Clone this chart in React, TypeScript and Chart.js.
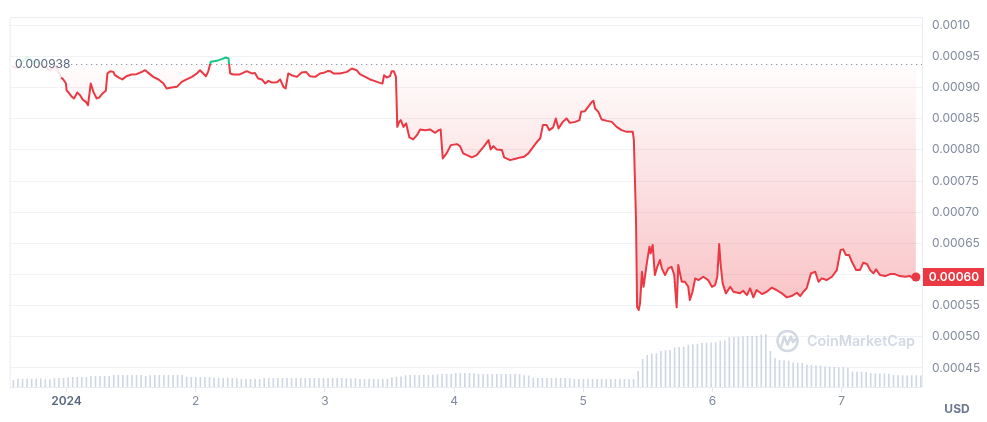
import React, { useEffect, useRef } from "react";
import { Chart, registerables } from "chart.js";

Chart.register(...registerables);

// ---------- data ----------
const BASE_PRICE = 0.000938;
const X_MIN = -10.5;
const X_MAX = 158.93;
const Y_MIN = 0.0004195;
const Y_MAX = 0.00101284;
const Y_TICKS = [0.00045, 0.0005, 0.00055, 0.0006, 0.00065, 0.0007, 0.00075, 0.0008, 0.00085, 0.0009, 0.00095, 0.001];
const X_TICKS = [0, 24, 48, 72, 96, 120, 144];
const X_TICK_LABELS = ["2024", "2", "3", "4", "5", "6", "7"];

// hours since 2024-01-01 00:00
const HOURS = [
  -1.0, -0.6, -0.1, 0.0, 0.5, 1.0, 1.4, 2.0, 2.5, 3.0, 3.6, 4.0, 4.5, 5.0, 5.6, 6.1, 6.7, 7.3, 7.6, 8.1,
  8.7, 9.0, 9.8, 10.4, 11.1, 12.1, 13.0, 14.0, 14.6, 15.2, 16.1, 17.1, 18.0, 18.6, 19.5, 20.5, 21.4, 22.3, 23.3, 24.2,
  24.8, 25.4, 25.9, 26.3, 26.8, 27.9, 28.8, 29.6, 30.1, 30.4, 31.0, 32.2, 33.5, 34.4, 35.0, 35.6, 36.3, 36.9, 37.5, 38.1,
  39.1, 39.7, 40.3, 40.7, 41.2, 41.8, 42.8, 43.7, 44.5, 45.2, 46.2, 47.1, 48.0, 48.6, 49.0, 49.6, 50.8, 52.1, 53.0, 53.9,
  54.5, 55.5, 56.4, 57.3, 58.2, 58.7, 59.0, 59.5, 60.1, 60.4, 60.8, 61.2, 61.45, 61.8, 62.1, 62.6, 63.1, 63.7, 64.4, 65.1,
  65.7, 66.6, 67.5, 68.5, 69.1, 69.5, 69.9, 70.6, 71.4, 72.5, 73.1, 73.7, 74.4, 75.3, 76.2, 77.4, 78.4, 78.8, 79.3, 79.9,
  80.9, 81.3, 82.4, 83.6, 84.3, 85.0, 85.8, 86.7, 87.4, 88.0, 88.5, 89.2, 89.7, 90.4, 90.9, 91.4, 92.2, 92.9, 93.5, 94.5,
  95.3, 95.6, 96.3, 96.9, 97.6, 97.9, 98.2, 98.8, 99.4, 100.4, 101.3, 102.2, 103.1, 104.1, 105.2, 105.4, 105.8, 106.0, 106.3, 106.55,
  106.9, 107.2, 107.8, 108.3, 108.5, 108.9, 109.3, 109.75, 110.25, 110.6, 111.2, 111.8, 112.4, 112.9, 113.35, 113.65, 114.3, 114.9, 115.5, 115.8,
  116.3, 116.8, 117.4, 118.3, 119.2, 119.9, 120.5, 120.9, 121.25, 121.5, 121.9, 122.5, 123.3, 123.9, 125.1, 125.7, 126.4, 127.0, 127.6, 128.2,
  129.2, 130.1, 131.0, 131.9, 132.9, 133.8, 134.7, 135.7, 136.3, 136.9, 137.5, 138.3, 139.1, 139.7, 140.3, 141.2, 142.2, 143.1, 143.8, 144.3,
  144.8, 145.4, 145.9, 146.7, 147.4, 148.0, 148.7, 149.3, 149.9, 150.4, 151.1, 152.1, 153.0, 153.9, 154.8, 155.8, 156.7, 157.3, 157.8,
];

const PRICES = [
  0.0009161, 0.0009129, 0.0009065, 0.0008958, 0.0008905, 0.000885, 0.0008825, 0.0008921, 0.0008878, 0.0008809, 0.000877, 0.0008717, 0.0009065, 0.000893, 0.0008825, 0.0008841, 0.0008905, 0.0008947, 0.0009226, 0.0009262,
  0.0009251, 0.0009198, 0.0009155, 0.000913, 0.0009182, 0.0009209, 0.0009214, 0.0009251, 0.0009278, 0.0009235, 0.0009171, 0.0009129, 0.0009065, 0.0008985, 0.0009001, 0.0009011, 0.0009091, 0.000913, 0.0009171, 0.0009226,
  0.0009278, 0.0009226, 0.0009182, 0.0009251, 0.0009412, 0.0009428, 0.0009455, 0.0009482, 0.0009466, 0.0009226, 0.000921, 0.000921, 0.0009262, 0.0009226, 0.0009235, 0.0009145, 0.0009129, 0.0009065, 0.0009107, 0.0009081,
  0.0009086, 0.0009129, 0.0009011, 0.0008985, 0.0009226, 0.0009198, 0.0009171, 0.0009242, 0.0009251, 0.0009182, 0.0009171, 0.0009226, 0.0009242, 0.0009267, 0.0009262, 0.0009226, 0.0009226, 0.0009251, 0.0009306, 0.0009278,
  0.0009214, 0.0009171, 0.0009129, 0.0009102, 0.0009075, 0.0009065, 0.0009198, 0.0009161, 0.0009182, 0.0009262, 0.0009262, 0.0009171, 0.0008369, 0.0008449, 0.0008477, 0.0008369, 0.0008424, 0.0008199, 0.0008167, 0.0008236,
  0.0008328, 0.0008316, 0.0008328, 0.0008273, 0.0008316, 0.0008328, 0.0007862, 0.0007943, 0.0008076, 0.0008092, 0.000806, 0.0007943, 0.0007915, 0.0007879, 0.0007915, 0.0008039, 0.0008156, 0.0008007, 0.000806, 0.0008007,
  0.0007996, 0.0007879, 0.0007835, 0.0007862, 0.0007879, 0.0007888, 0.0007943, 0.0008049, 0.0008129, 0.0008183, 0.0008397, 0.0008397, 0.0008316, 0.000836, 0.0008504, 0.0008344, 0.0008449, 0.0008504, 0.0008433, 0.0008449,
  0.0008477, 0.000861, 0.0008621, 0.000869, 0.000877, 0.0008786, 0.0008664, 0.000861, 0.0008488, 0.0008465, 0.0008449, 0.0008369, 0.0008316, 0.0008289, 0.0008289, 0.0008156, 0.0006873, 0.0005483, 0.000543, 0.0005537,
  0.0006044, 0.0005803, 0.0006179, 0.0006445, 0.0006339, 0.0006472, 0.0005991, 0.0006124, 0.0006232, 0.0006098, 0.0005991, 0.0006098, 0.0006124, 0.0005991, 0.0005473, 0.0006151, 0.0005884, 0.0005884, 0.0005803, 0.000559,
  0.0005723, 0.0005938, 0.0005911, 0.0005964, 0.0005911, 0.0005803, 0.0005831, 0.0005964, 0.0006488, 0.0006179, 0.0005858, 0.0005698, 0.0005803, 0.0005723, 0.0005698, 0.0005739, 0.000567, 0.0005778, 0.0005633, 0.0005751,
  0.0005686, 0.0005723, 0.0005788, 0.0005751, 0.0005698, 0.0005633, 0.0005654, 0.0005707, 0.0005654, 0.0005723, 0.0005778, 0.0006018, 0.0006044, 0.0005884, 0.0005938, 0.0005911, 0.0005964, 0.0006071, 0.0006392, 0.0006403,
  0.0006312, 0.0006312, 0.0006204, 0.0006071, 0.0006071, 0.0006188, 0.0006168, 0.0006071, 0.0006018, 0.0006082, 0.0005991, 0.0005975, 0.0006007, 0.0006007, 0.0005975, 0.0005964, 0.0005975, 0.0005939, 0.000596,
];

// faded stretch before the period start
const GHOST_HOURS = [-10.1, -9.0, -7.9, -7.2, -6.0, -4.6, -3.1, -2.0, -1.0];
const GHOST_PRICES = [0.0009343, 0.0009311, 0.0009439, 0.0009487, 0.0009407, 0.0009375, 0.0009278, 0.0009343, 0.0009161];

// rolling 24h volume (thousand USD), evenly spaced across the chart
const VOLUME = [
  140, 166, 166, 168, 166, 166, 168, 154, 154, 176, 180, 180, 196, 200, 200, 200, 202, 216, 220, 220,
  220, 222, 240, 240, 242, 240, 240, 240, 240, 222, 236, 240, 240, 240, 240, 240, 240, 238, 204, 200,
  200, 200, 198, 196, 186, 186, 180, 184, 178, 176, 160, 160, 162, 160, 160, 178, 180, 182, 180, 180,
  180, 178, 180, 180, 180, 182, 180, 180, 180, 180, 178, 180, 180, 174, 172, 174, 160, 160, 160, 162,
  160, 160, 164, 196, 204, 210, 236, 240, 240, 242, 240, 240, 244, 256, 260, 262, 262, 278, 280, 282,
  280, 276, 262, 260, 260, 260, 258, 262, 260, 258, 260, 256, 236, 230, 184, 180, 180, 180, 182, 180,
  180, 178, 176, 160, 160, 158, 160, 160, 160, 160, 158, 160, 160, 160, 158, 156, 160, 320, 560, 640,
  668, 676, 720, 734, 740, 790, 800, 806, 846, 854, 860, 880, 886, 890, 896, 926, 936, 994, 1000, 1006,
  1016, 1020, 1022, 1026, 1050, 1056, 720, 580, 540, 534, 526, 492, 486, 480, 446, 440, 436, 430, 410, 406,
  402, 390, 400, 384, 312, 306, 304, 300, 278, 274, 272, 270, 268, 238, 234, 234, 232, 234, 234, 232,
];
const VOLUME_AXIS_MAX = 7400;

// ---------- styles ----------
const RED = "#ea3943";
const GREEN = "#16c784";
const FONT = "Inter, 'Noto Sans', sans-serif";
const TICK_COLOR = "#808a9d";
const GRID_COLOR = "#f0f2f5";
const FRAME_COLOR = "#e9ecf1";

function splitStops(chart: any, above: string[], below: string[]) {
  const area = chart.chartArea;
  if (!area) return below[1];
  const yb = chart.scales.y.getPixelForValue(BASE_PRICE);
  const f = Math.min(1, Math.max(0, (yb - area.top) / (area.bottom - area.top)));
  const g = chart.ctx.createLinearGradient(0, area.top, 0, area.bottom);
  g.addColorStop(0, above[0]);
  g.addColorStop(f, above[1]);
  g.addColorStop(f, below[0]);
  g.addColorStop(1, below[1]);
  return g;
}

const overlayPlugin = {
  id: "overlay",
  beforeDatasetsDraw(chart: any) {
    const { ctx, chartArea: a } = chart;
    ctx.save();
    // watermark
    const wm = "#d3d9e2";
    ctx.strokeStyle = wm;
    ctx.lineWidth = 2.6;
    ctx.lineCap = "round";
    ctx.lineJoin = "round";
    ctx.beginPath();
    ctx.arc(787.5, 341, 10, 0, Math.PI * 2);
    ctx.stroke();
    ctx.beginPath();
    ctx.moveTo(781.5, 346);
    ctx.lineTo(784.2, 336.5);
    ctx.lineTo(787.5, 344.5);
    ctx.lineTo(790.8, 336.5);
    ctx.lineTo(793, 342);
    ctx.lineTo(795.5, 339.5);
    ctx.stroke();
    ctx.fillStyle = wm;
    const text = "CoinMarketCap";
    ctx.font = `600 16px ${FONT}`;
    const w = ctx.measureText(text).width;
    const size = 16 * (108 / w);
    ctx.font = `600 ${size.toFixed(2)}px ${FONT}`;
    ctx.textAlign = "left";
    ctx.textBaseline = "middle";
    ctx.fillText(text, 807, 341.5);
    // frame
    ctx.strokeStyle = FRAME_COLOR;
    ctx.lineWidth = 1;
    ctx.strokeRect(a.left + 0.5, a.top + 0.5, a.right - a.left, a.bottom - a.top);
    ctx.restore();
  },
  afterDatasetsDraw(chart: any) {
    const { ctx, chartArea: a, scales } = chart;
    const y = Math.round(scales.y.getPixelForValue(BASE_PRICE)) + 0.5;
    ctx.save();
    ctx.strokeStyle = "#8f98a8";
    ctx.lineWidth = 1.2;
    ctx.setLineDash([1.3, 3.7]);
    ctx.beginPath();
    ctx.moveTo(71, y);
    ctx.lineTo(a.right, y);
    ctx.stroke();
    ctx.setLineDash([]);
    ctx.fillStyle = "#58667e";
    ctx.font = `12px ${FONT}`;
    ctx.textAlign = "left";
    ctx.textBaseline = "middle";
    ctx.fillText(BASE_PRICE.toFixed(6), 15, y);
    ctx.restore();
  },
  afterDraw(chart: any) {
    const { ctx, scales } = chart;
    const last = PRICES[PRICES.length - 1];
    const y = scales.y.getPixelForValue(last);
    ctx.save();
    ctx.fillStyle = RED;
    ctx.fillRect(923, Math.round(y - 9), 61, 18);
    ctx.fillStyle = "#ffffff";
    ctx.font = `600 12px ${FONT}`;
    ctx.textAlign = "center";
    ctx.textBaseline = "middle";
    ctx.fillText(last.toFixed(5), 954, y + 0.5);
    ctx.fillStyle = "#6c7790";
    ctx.font = `700 12px ${FONT}`;
    ctx.fillText("USD", 957, 409);
    ctx.restore();
  },
};

export default function App() {
  const ref = useRef<HTMLCanvasElement>(null);

  useEffect(() => {
    const canvas = ref.current;
    if (!canvas) return;
    Chart.defaults.font.family = FONT;
    const lastIdx = PRICES.length - 1;
    const chart = new Chart(canvas, {
      type: "line",
      data: {
        datasets: [
          {
            type: "line",
            label: "Price",
            data: HOURS.map((h, i) => ({ x: h, y: PRICES[i] })),
            xAxisID: "x",
            yAxisID: "y",
            borderWidth: 2,
            tension: 0,
            borderJoinStyle: "round",
            borderColor: (c: any) => splitStops(c.chart, [GREEN, GREEN], [RED, RED]),
            backgroundColor: (c: any) =>
              splitStops(
                c.chart,
                ["rgba(22,199,132,0.10)", "rgba(22,199,132,0.04)"],
                ["rgba(234,57,67,0.01)", "rgba(234,57,67,0.40)"]
              ),
            fill: { target: { value: BASE_PRICE } },
            pointRadius: (c: any) => (c.dataIndex === lastIdx ? 4.5 : 0),
            pointHoverRadius: 0,
            pointBackgroundColor: RED,
            pointBorderColor: RED,
            pointBorderWidth: 0,
            order: 0,
          } as any,
          {
            type: "line",
            label: "Earlier",
            data: GHOST_HOURS.map((h, i) => ({ x: h, y: GHOST_PRICES[i] })),
            xAxisID: "x",
            yAxisID: "y",
            borderWidth: 2,
            tension: 0,
            borderColor: (c: any) =>
              splitStops(
                c.chart,
                ["rgba(22,199,132,0.15)", "rgba(22,199,132,0.15)"],
                ["rgba(234,57,67,0.15)", "rgba(234,57,67,0.15)"]
              ),
            fill: false,
            pointRadius: 0,
            order: 1,
          } as any,
          {
            type: "bar",
            label: "Volume",
            data: VOLUME,
            xAxisID: "xv",
            yAxisID: "yv",
            backgroundColor: "#cfd6e4",
            borderWidth: 0,
            categoryPercentage: 1,
            barPercentage: 0.7,
            order: 2,
          } as any,
        ],
      },
      options: {
        responsive: true,
        maintainAspectRatio: false,
        animation: false,
        events: [],
        layout: { padding: { left: 10, top: 17, right: 0, bottom: 0 } },
        plugins: {
          legend: { display: false },
          tooltip: { enabled: false },
        },
        scales: {
          x: {
            type: "linear",
            position: "bottom",
            min: X_MIN,
            max: X_MAX,
            afterBuildTicks: (s: any) => {
              s.ticks = X_TICKS.map((v) => ({ value: v }));
            },
            afterFit: (s: any) => {
              s.height = 35;
            },
            border: { display: false },
            grid: {
              drawOnChartArea: false,
              drawTicks: true,
              tickLength: 5,
              color: "#e3e7ed",
            },
            ticks: {
              padding: 2,
              maxRotation: 0,
              autoSkip: false,
              color: (c: any) => (c.tick && c.tick.value === 0 ? "#58667e" : TICK_COLOR),
              font: (c: any) => ({
                family: FONT,
                size: 12,
                weight: c.tick && c.tick.value === 0 ? "600" : "400",
              }),
              callback: (v: any) => {
                const i = X_TICKS.indexOf(Number(v));
                return i >= 0 ? X_TICK_LABELS[i] : "";
              },
            },
          },
          y: {
            type: "linear",
            position: "right",
            min: Y_MIN,
            max: Y_MAX,
            afterBuildTicks: (s: any) => {
              s.ticks = Y_TICKS.map((v) => ({ value: v }));
            },
            afterFit: (s: any) => {
              s.width = 65;
            },
            border: { display: false },
            grid: { color: GRID_COLOR, drawTicks: false },
            ticks: {
              padding: 10,
              color: TICK_COLOR,
              font: { family: FONT, size: 12 },
              callback: (v: any) => {
                const n = Number(v);
                return n >= 0.00099 ? n.toFixed(4) : n.toFixed(5);
              },
            },
          },
          xv: {
            type: "category",
            labels: VOLUME.map((_, i) => String(i)),
            display: false,
            offset: true,
          },
          yv: {
            type: "linear",
            display: false,
            min: 0,
            max: VOLUME_AXIS_MAX,
          },
        },
      } as any,
      plugins: [overlayPlugin],
    });
    return () => chart.destroy();
  }, []);

  return (
    <div style={{ position: "fixed", left: 0, top: 0, width: 987, height: 422, background: "#ffffff" }}>
      <canvas ref={ref} />
    </div>
  );
}
